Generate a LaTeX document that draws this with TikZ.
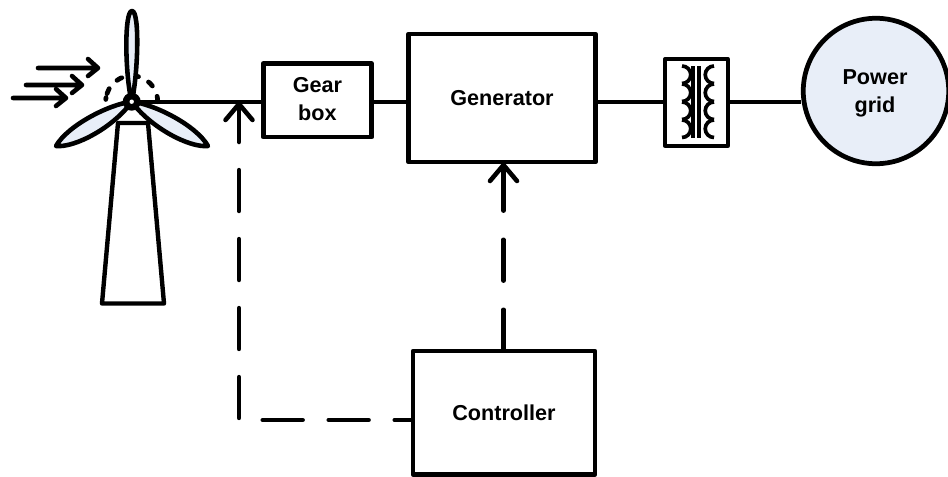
\documentclass[tikz,border=0pt]{standalone}
\usepackage{fontspec}
\setmainfont{Liberation Sans}
\usepackage{xcolor}
\usepackage{tikz}
\usetikzlibrary{calc}
\definecolor{palefill}{RGB}{232,238,248}
\tikzset{
  wire/.style={line width=2.5pt},
  ctrlwire/.style={line width=2.5pt,line cap=round},
  headwire/.style={line width=2.6pt,line cap=round,line join=round},
  block/.style={draw,line width=2.7pt,line join=round,font=\bfseries\fontsize{12.3pt}{16.2pt}\selectfont,align=center,inner sep=0pt},
  blocktext/.style={font=\bfseries\fontsize{12.3pt}{16.2pt}\selectfont,align=center,inner sep=0pt},
  blade/.style={draw,line width=2.6pt,fill=palefill,line join=round},
  coil/.style={line width=2.1pt},
  ringwire/.style={line width=2.7pt,line cap=round}
}
\begin{document}
\begin{tikzpicture}[x=0.02cm,y=-0.02cm]
\useasboundingbox (0,0) rectangle (948,477);

% Blocks
\node[block,minimum width=2.17cm,minimum height=1.47cm] (gearbox) at (317.4,100.3) {};
\node[blocktext] (gearlabel) at (317.4,99.3) {Gear\\box};
\node[block,minimum width=3.74cm,minimum height=2.56cm] (generator) at (502,98) {\raisebox{-0.6pt}{Generator}};
\node[block,minimum width=3.64cm,minimum height=2.47cm] (controller) at (504,412.8) {\raisebox{-0.4pt}{Controller}};
\node[block,line width=1.9pt,minimum width=1.26cm,minimum height=1.74cm] (trafo) at (696.5,102.5) {};
\node[block,circle,fill=palefill,minimum size=2.91cm] (grid) at (876,91) {};
\node[blocktext] (gridlabel) at (875,93.3) {Power\\grid};

% Hub and connectors
\coordinate (hub) at (131.7,101.7);
\draw[wire] (hub) -- (gearbox.west |- hub);
\draw[wire] (gearbox.east |- hub) -- (generator.west |- hub);
\draw[wire] (generator.east |- hub) -- (trafo.west |- hub);
\draw[wire] (trafo.east |- hub) -- (grid.west |- hub);

% Control lines
\coordinate (corner) at (239,420);
\coordinate (gearin) at (239,104);
\coordinate (genin) at (503.5,165);
\draw[ctrlwire,dash pattern=on 0.8cm off 0.52cm,dash phase=0.48cm] (controller.west |- corner) -- (corner);
\draw[ctrlwire,dash pattern=on 0.82cm off 0.56cm] (239,418) -- (gearin);
\draw[headwire] (225.5,120) -- (gearin) -- (252.5,120);
\draw[ctrlwire,dash pattern=on 0.82cm off 0.58cm,dash phase=0.04cm] (genin |- controller.north) -- (genin);
\draw[headwire] (490,181) -- (genin) -- (517,181);

% Transformer
\draw[coil] (693,66) -- (693,138) (699,66) -- (699,138);
\foreach \ya in {66,84,102,120} {
  \draw[coil] (682,\ya) arc[start angle=-90,end angle=90,radius=8.75];
  \draw[coil] (714,\ya) arc[start angle=-90,end angle=-270,radius=8.75];
}

% Tower
\draw[ctrlwire,line join=round] (118,123) -- (102,303.5) -- (164,303.5) -- (148,123) -- cycle;

% Dashed ring
\draw[ringwire] (hub) ++(-175:26) arc[start angle=-175,end angle=-171,radius=26];
\draw[ringwire,dash pattern=on 0.11cm off 0.23cm] (hub) ++(-162:26) arc[start angle=-162,end angle=0,radius=26];

% Blades
\draw[blade] (hub) .. controls (125,75) and (124,11) .. (132,11) .. controls (140,11) and (138,75) .. (hub) -- cycle;
\draw[blade] (hub) .. controls (110,104) and (68,125) .. (56,146) .. controls (75,148) and (114,127) .. (hub) -- cycle;
\draw[blade] (hub) .. controls (154,104) and (196,125) .. (208,146) .. controls (189,148) and (150,127) .. (hub) -- cycle;
\fill (hub) circle (9);
\fill[white] (hub) circle (2.2);

% Wind
\foreach \xa/\xb/\ya in {38/98/68,26/82/85,13/66/98} {
  \draw[headwire] (\xa,\ya) -- (\xb,\ya) (\xb-10,\ya-9) -- (\xb,\ya) -- (\xb-10,\ya+8);
}
\end{tikzpicture}
\end{document}
